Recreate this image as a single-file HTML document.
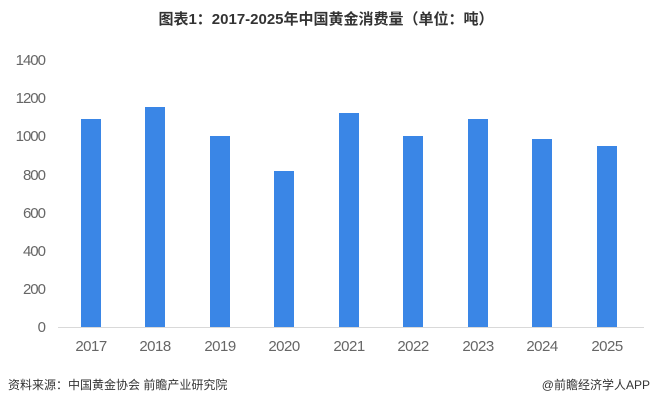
<!DOCTYPE html>
<html><head><meta charset="utf-8"><style>
body{margin:0;width:652px;height:407px;background:#fff;overflow:hidden;font-family:"Liberation Sans","Noto Sans CJK SC",sans-serif}
</style></head><body>
<svg width="652" height="407" xmlns="http://www.w3.org/2000/svg" font-family="Liberation Sans, Noto Sans CJK SC, sans-serif">
<text x="326" y="24" text-anchor="middle" font-size="15" font-weight="bold" fill="#333">图表1：2017-2025年中国黄金消费量（单位：吨）</text>
<g font-size="15" fill="#666" text-anchor="end" letter-spacing="-1">
<text x="45" y="332">0</text><text x="45" y="294">200</text><text x="45" y="256">400</text><text x="45" y="218">600</text><text x="45" y="180">800</text><text x="45" y="141">1000</text><text x="45" y="103">1200</text><text x="45" y="65">1400</text>
</g>
<line x1="58" y1="327.5" x2="644" y2="327.5" stroke="#d9d9d9"/>
<g fill="#3a86e6">
<rect x="81" y="119" width="20" height="208"/>
<rect x="145" y="107" width="20" height="220"/>
<rect x="210" y="136" width="20" height="191"/>
<rect x="274" y="171" width="20" height="156"/>
<rect x="339" y="113" width="20" height="214"/>
<rect x="403" y="136" width="20" height="191"/>
<rect x="468" y="119" width="20" height="208"/>
<rect x="532" y="139" width="20" height="188"/>
<rect x="597" y="146" width="20" height="181"/>
</g>
<g font-size="15" fill="#666" text-anchor="middle" letter-spacing="-0.5">
<text x="91" y="351">2017</text><text x="155" y="351">2018</text><text x="220" y="351">2019</text><text x="284" y="351">2020</text><text x="349" y="351">2021</text><text x="413" y="351">2022</text><text x="478" y="351">2023</text><text x="542" y="351">2024</text><text x="607" y="351">2025</text>
</g>
<text x="8" y="389" font-size="12" fill="#333">资料来源：中国黄金协会  前瞻产业研究院</text>
<text x="650" y="389" font-size="12" fill="#333" text-anchor="end">@前瞻经济学人APP</text>
</svg>
</body></html>
